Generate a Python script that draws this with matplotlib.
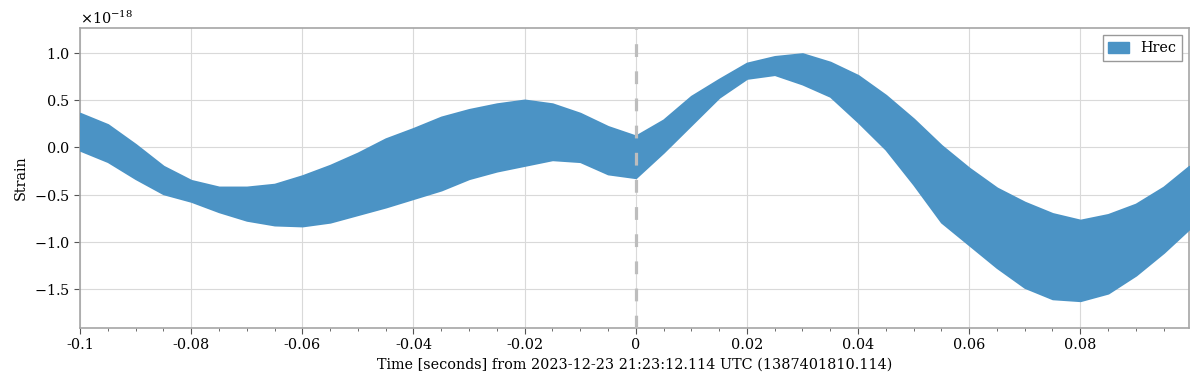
import numpy as np
import matplotlib
matplotlib.use('Agg')
import matplotlib.pyplot as plt
from matplotlib.patches import Patch
from matplotlib.ticker import FixedLocator, MultipleLocator, FuncFormatter

# envelope of the Hrec strain band (units of 1e-18)
time = [-0.100, -0.095, -0.090, -0.085, -0.080, -0.075, -0.070, -0.065, -0.060, -0.055,
        -0.050, -0.045, -0.040, -0.035, -0.030, -0.025, -0.020, -0.015, -0.010, -0.005,
        0.000, 0.005, 0.010, 0.015, 0.020, 0.025, 0.030, 0.035, 0.040, 0.045,
        0.050, 0.055, 0.060, 0.065, 0.070, 0.075, 0.080, 0.085, 0.090, 0.095, 0.0996]
strain_upper = [0.36, 0.24, 0.03, -0.20, -0.35, -0.42, -0.42, -0.39, -0.30, -0.19,
                -0.06, 0.09, 0.20, 0.32, 0.40, 0.46, 0.50, 0.46, 0.36, 0.22,
                0.12, 0.29, 0.54, 0.72, 0.89, 0.96, 0.99, 0.90, 0.76, 0.55,
                0.30, 0.02, -0.22, -0.43, -0.58, -0.70, -0.77, -0.71, -0.60, -0.42, -0.20]
strain_lower = [-0.03, -0.15, -0.33, -0.49, -0.57, -0.68, -0.77, -0.82, -0.83, -0.79,
                -0.71, -0.63, -0.54, -0.45, -0.33, -0.25, -0.19, -0.13, -0.15, -0.28,
                -0.32, -0.05, 0.24, 0.53, 0.73, 0.77, 0.67, 0.54, 0.27, -0.02,
                -0.39, -0.79, -1.03, -1.27, -1.48, -1.60, -1.62, -1.54, -1.35, -1.11, -0.86]

xticks = [-0.1, -0.08, -0.06, -0.04, -0.02, 0, 0.02, 0.04, 0.06, 0.08]
xlabels = ['-0.1', '-0.08', '-0.06', '-0.04', '-0.02', '0', '0.02', '0.04', '0.06', '0.08']

plt.rcParams['font.family'] = ['DejaVu Serif']
plt.rcParams['font.size'] = 10.4
plt.rcParams['axes.unicode_minus'] = True

color = '#4b93c5'
fig = plt.figure(figsize=(12, 3.91), dpi=100)
ax = fig.add_axes([0.0667, 0.161, 0.9243, 0.767])

t = np.array(time)
up = np.array(strain_upper) * 1e-18
lo = np.array(strain_lower) * 1e-18
ax.fill_between(t, lo, up, color=color, linewidth=1.5, edgecolor=color, zorder=3)

ax.axvline(0, color='#bdbdbd', lw=2.3, dashes=(4, 4.5), zorder=4)

ax.set_xlim(-0.1, 0.0996)
ax.set_ylim(-1.91e-18, 1.26e-18)
ax.xaxis.set_major_locator(FixedLocator(xticks))
ax.xaxis.set_major_formatter(FuncFormatter(lambda v, p: xlabels[xticks.index(round(v, 2))] if round(v, 2) in xticks else ''))
ax.xaxis.set_minor_locator(MultipleLocator(0.005))
ax.yaxis.set_major_locator(MultipleLocator(0.5e-18))
ax.ticklabel_format(axis='y', useMathText=True)

ax.grid(True, which='major', color='#d9d9d9', lw=0.8, zorder=0)
ax.set_axisbelow(True)
for s in ax.spines.values():
    s.set_color('#a6a6a6')
    s.set_linewidth(1.2)
ax.tick_params(which='major', length=4, color='#555555', labelsize=10.4)
ax.tick_params(which='minor', length=2.5, color='#555555')

ax.set_xlabel('Time [seconds] from 2023-12-23 21:23:12.114 UTC (1387401810.114)', fontsize=10.4, labelpad=4)
ax.set_ylabel('Strain', fontsize=10.4)

ax.legend(handles=[Patch(facecolor=color, edgecolor=color, label='Hrec')], loc='upper right',
          fancybox=False, edgecolor='#999999', framealpha=1, fontsize=10.4,
          handlelength=1.4, handleheight=0.8, borderpad=0.4)

fig.savefig('out.png', dpi=100)
